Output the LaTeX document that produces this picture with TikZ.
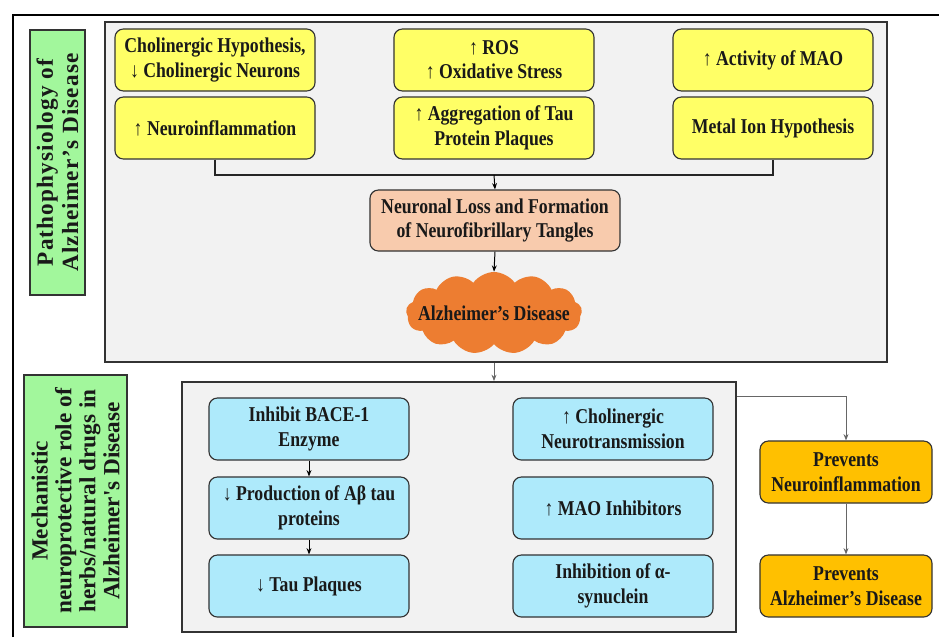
\documentclass[tikz,border=0pt]{standalone}
\usepackage{fontspec}
\setmainfont{Liberation Serif}[FakeStretch=0.84]
\newfontfamily\labelfont{Liberation Serif}[LetterSpace=5]
\newfontfamily\mechfont{Liberation Serif}
\usetikzlibrary{arrows.meta}
\usetikzlibrary{shapes.symbols}
\definecolor{panelgray}{HTML}{F2F2F2}
\definecolor{hypyellow}{HTML}{FFFF66}
\definecolor{losspeach}{HTML}{F8CBAD}
\definecolor{cloudorange}{HTML}{ED7D31}
\definecolor{mechblue}{HTML}{AEEAFB}
\definecolor{prevorange}{HTML}{FFC000}
\definecolor{sidegreen}{HTML}{A2F79C}
\tikzset{
    boxtext/.style={font=\fontsize{15}{17.5}\selectfont\bfseries, align=center, text=black!90},
    panel/.style={draw=black!80, line width=1.3pt, fill=panelgray},
    cause/.style={boxtext, rectangle, rounded corners=6pt, draw=black!80, line width=0.8pt,
        minimum width=5cm, minimum height=1.55cm, inner sep=1pt},
    sidelabel/.style={rectangle, align=center, text=black!90, draw=black!80, line width=0.8pt,
        fill=sidegreen, rotate=90, inner sep=1pt},
    arr/.style={-{Stealth[length=4.5pt,width=3.5pt]}, line width=0.7pt}
}
\begin{document}
\begin{tikzpicture}[x=0.025cm, y=-0.025cm]

    \useasboundingbox (0,0) rectangle (939,637);
    \draw[line width=1pt] (13,637) -- (13,15) -- (939,15);

    % side labels
    \node[sidelabel, minimum width=6.625cm, minimum height=1.375cm,
        font=\labelfont\fontsize{16.5}{18}\selectfont\bfseries] (lblpatho) at (57.5,162.5)
        {Pathophysiology of\\Alzheimer’s Disease};
    \node[sidelabel, minimum width=6.3cm, minimum height=2.575cm,
        font=\mechfont\fontsize{16.5}{17}\selectfont\bfseries] (lblmech) at (75.5,501)
        {Mechanistic\\neuroprotective role of\\herbs/natural drugs in\\Alzheimer's Disease};

    % panels
    \node[panel, minimum width=19.55cm, minimum height=8.5cm] (top) at (496,192) {};
    \node[panel, minimum width=13.85cm, minimum height=6.25cm] (low) at (459,507) {};

    % pathophysiology
    \node[cause, fill=hypyellow] (chol) at (215,60) {Cholinergic Hypothesis,\\↓ Cholinergic Neurons};
    \node[cause, fill=hypyellow] (neuro) at (215,128) {↑ Neuroinflammation};
    \node[cause, fill=hypyellow] (ros) at (494,60) {↑ ROS\\↑ Oxidative Stress};
    \node[cause, fill=hypyellow] (tau) at (494,128) {↑ Aggregation of Tau\\Protein Plaques};
    \node[cause, fill=hypyellow] (mao) at (773,60) {↑ Activity of MAO};
    \node[cause, fill=hypyellow] (metal) at (773,128) {Metal Ion Hypothesis};

    \node[cause, fill=losspeach, minimum width=6.25cm, minimum height=1.525cm] (loss) at (495,220.5)
        {Neuronal Loss and Formation\\of Neurofibrillary Tangles};
    \node[cloud, cloud puffs=13, cloud puff arc=110, aspect=2.1, fill=cloudorange, inner sep=0pt,
        minimum width=4.4cm, minimum height=2.05cm] (ad) at (494,313) {};
    \node[boxtext] (adtext) at (ad.center) {Alzheimer’s Disease};

    \coordinate (join) at (494,175);
    \draw[line width=0.8pt, black!85] (neuro.south) |- (join) -| (metal.south);
    \draw[arr] (join) -- (loss.north);
    \draw[arr] (loss.south) -- (ad.north);
    \draw[arr, black!60] (ad |- top.south) -- (ad |- low.north);

    % mechanisms
    \node[cause, fill=mechblue] (bace) at (309,429) {Inhibit BACE-1\\Enzyme};
    \node[cause, fill=mechblue] (abeta) at (309,508) {↓ Production of Aβ tau\\proteins};
    \node[cause, fill=mechblue] (plaq) at (309,586) {↓ Tau Plaques};
    \node[cause, fill=mechblue] (cholt) at (613,429) {↑ Cholinergic\\Neurotransmission};
    \node[cause, fill=mechblue] (maoi) at (613,508) {↑ MAO Inhibitors};
    \node[cause, fill=mechblue] (syn) at (613,586) {Inhibition of α-\\synuclein};

    \draw[arr] (bace) -- (abeta);
    \draw[arr] (abeta) -- (plaq);

    % outcomes
    \node[cause, fill=prevorange, minimum width=4.3cm] (prevn) at (846,472) {Prevents\\Neuroinflammation};
    \node[cause, fill=prevorange, minimum width=4.3cm] (prevad) at (846,586) {Prevents\\Alzheimer’s Disease};

    \draw[arr, black!60] ([yshift=-0.375cm]low.north east) -| (prevn.north);
    \draw[arr, black!60] (prevn) -- (prevad);

\end{tikzpicture}
\end{document}
